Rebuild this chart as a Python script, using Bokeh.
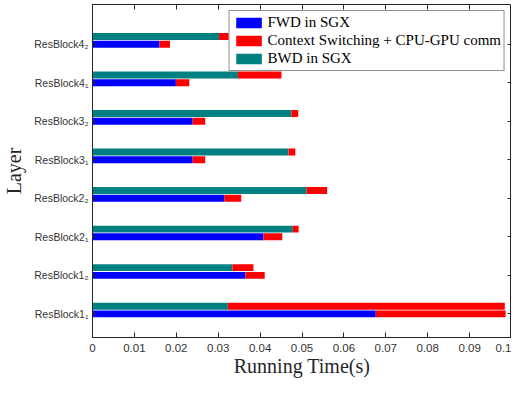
from bokeh.plotting import figure
from bokeh.models import (Range1d, FixedTicker, LinearAxis, Legend, LegendItem,
                          ColumnDataSource, CustomLabelingPolicy)
from bokeh.embed import file_html
from bokeh.resources import INLINE

# ---- data (bottom to top) ----
layers = ["ResBlock1₁", "ResBlock1₂", "ResBlock2₁", "ResBlock2₂",
          "ResBlock3₁", "ResBlock3₂", "ResBlock4₁", "ResBlock4₂"]
fwd = [0.0676, 0.0365, 0.0408, 0.0315, 0.0239, 0.0239, 0.0199, 0.0160]
fwd_comm = [0.0310, 0.0046, 0.0045, 0.0040, 0.0030, 0.0030, 0.0032, 0.0025]
bwd = [0.0323, 0.0334, 0.0478, 0.0511, 0.0468, 0.0475, 0.0347, 0.0302]
bwd_comm = [0.0661, 0.0050, 0.0014, 0.0049, 0.0016, 0.0016, 0.0104, 0.0028]
x_ticks = [0, 0.01, 0.02, 0.03, 0.04, 0.05, 0.06, 0.07, 0.08, 0.09, 0.1]
x_tick_labels = ["0", "0.01", "0.02", "0.03", "0.04", "0.05", "0.06", "0.07", "0.08", "0.09", "0.1"]

pos = list(range(1, len(layers) + 1))
src = ColumnDataSource(dict(
    y_f=[p for p in pos],
    y_b=[p + 0.2 for p in pos],
    fwd=fwd,
    fwd_end=[a + b for a, b in zip(fwd, fwd_comm)],
    bwd=bwd,
    bwd_end=[a + b for a, b in zip(bwd, bwd_comm)],
    zero=[0.0] * len(pos),
))

AX = "#262626"
p = figure(width=511, height=379, output_backend="svg", toolbar_location=None,
           x_range=Range1d(0, 0.1), y_range=Range1d(0.387, 9.03),
           min_border_left=91, min_border_right=0, min_border_top=4,
           min_border_bottom=40)
p.grid.visible = False
p.outline_line_color = AX
p.outline_line_width = 1

H = 0.18
r_blue = p.hbar(y="y_f", left="zero", right="fwd", height=H, source=src,
                fill_color="#0000FF", line_color=None)
r_red = p.hbar(y="y_f", left="fwd", right="fwd_end", height=H, source=src,
               fill_color="#FF0000", line_color=None)
r_teal = p.hbar(y="y_b", left="zero", right="bwd", height=H, source=src,
                fill_color="#008080", line_color=None)
p.hbar(y="y_b", left="bwd", right="bwd_end", height=H, source=src,
       fill_color="#FF0000", line_color=None)

# x axis
xa = p.xaxis[0]
xa.ticker = FixedTicker(ticks=x_ticks)
xa.major_label_overrides = {t: l for t, l in zip(x_ticks, x_tick_labels)}
xa.minor_tick_line_color = None
xa.major_tick_in = 5
xa.major_tick_out = 0
xa.axis_line_color = AX
xa.major_tick_line_color = AX
xa.major_label_text_font = "Liberation Sans"
xa.major_label_text_font_size = "11.5px"
xa.major_label_text_color = "#333333"
xa.major_label_standoff = 6
xa.axis_label = "Running Time(s)"
xa.axis_label_text_font = "Liberation Serif"
xa.axis_label_text_font_style = "normal"
xa.axis_label_text_font_size = "20px"
xa.axis_label_text_color = AX
xa.axis_label_standoff = 0

# y axis
ya = p.yaxis[0]
ya.ticker = FixedTicker(ticks=pos)
ya.major_label_overrides = {pp: l for pp, l in zip(pos, layers)}
ya.minor_tick_line_color = None
ya.major_tick_in = 4
ya.major_tick_out = 0
ya.axis_line_color = AX
ya.major_tick_line_color = AX
ya.major_label_text_font = "Liberation Sans"
ya.major_label_text_font_size = "10.5px"
ya.major_label_text_color = "#333333"
ya.major_label_standoff = 4
ya.axis_label = "Layer"
ya.axis_label_text_font = "Liberation Serif"
ya.axis_label_text_font_style = "normal"
ya.axis_label_text_font_size = "20px"
ya.axis_label_text_color = AX
ya.axis_label_standoff = 6

# mirror axes (ticks only, labels not drawn)
hide_code = """
const idx = Array.from(indices);
for (const i of idx) {
  if (typeof indices.unset === 'function') indices.unset(i); else indices.set(i, false);
}
return indices;
"""
top = LinearAxis(ticker=FixedTicker(ticks=x_ticks), major_tick_in=5, major_tick_out=0,
                 minor_tick_line_color=None, axis_line_color=None,
                 major_tick_line_color=AX, major_label_text_font_size="0px",
                 major_label_text_color=None, major_label_standoff=0,
                 major_label_policy=CustomLabelingPolicy(code=hide_code))
right = LinearAxis(ticker=FixedTicker(ticks=pos), major_tick_in=4, major_tick_out=0,
                   minor_tick_line_color=None, axis_line_color=None,
                   major_tick_line_color=AX, major_label_text_font_size="0px",
                   major_label_text_color=None, major_label_standoff=0,
                   major_label_policy=CustomLabelingPolicy(code=hide_code))
p.add_layout(top, "above")
p.add_layout(right, "right")

legend = Legend(items=[
    LegendItem(label="FWD in SGX", renderers=[r_blue]),
    LegendItem(label="Context Switching + CPU-GPU comm", renderers=[r_red]),
    LegendItem(label="BWD in SGX", renderers=[r_teal]),
], location="top_right")
legend.label_text_font = "Liberation Serif"
legend.label_text_font_size = "15px"
legend.label_text_color = "#000000"
legend.glyph_width = 32
legend.glyph_height = 13
legend.label_standoff = 3
legend.spacing = 1
legend.padding = 3
legend.margin = 6
legend.border_line_color = AX
legend.border_line_width = 1
legend.background_fill_alpha = 1
legend.label_height = 17
p.add_layout(legend, "center")

open("out.html", "w").write(file_html(p, INLINE))
